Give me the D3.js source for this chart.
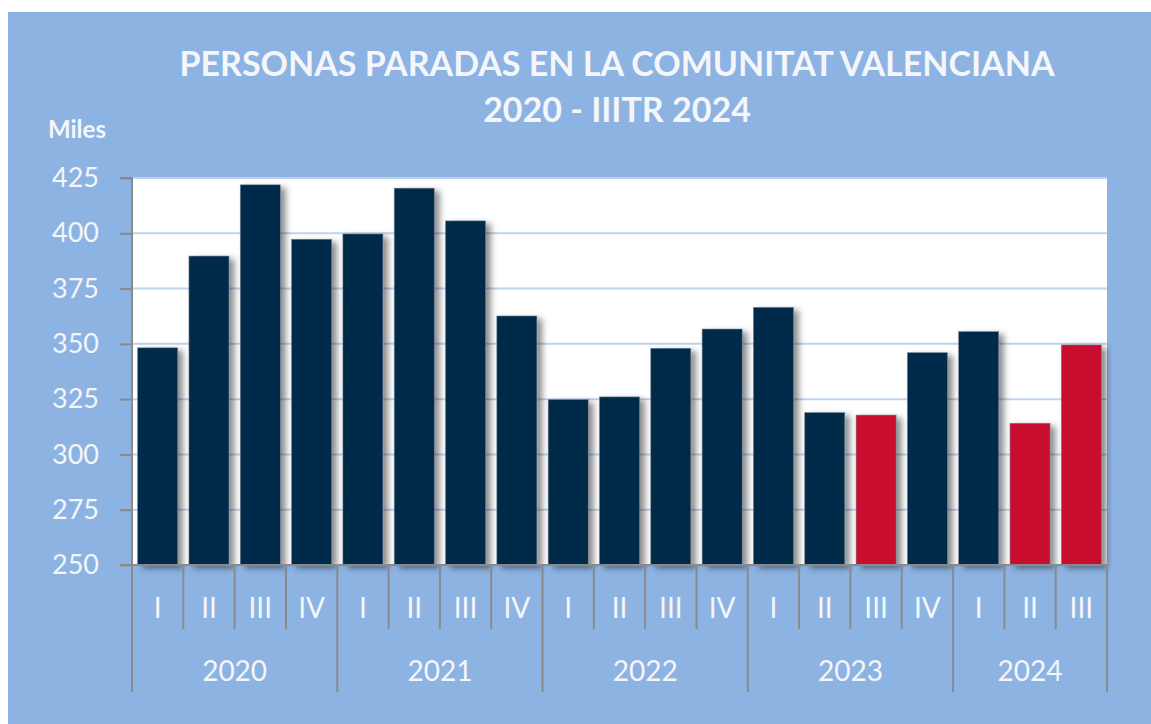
<!DOCTYPE html>
<html>
<head>
<meta charset="utf-8">
<script src="https://cdn.jsdelivr.net/npm/d3@7"></script>
<style>
  body { margin: 0; background: #fff; }
  text { font-family: Lato, "Open Sans", sans-serif; fill: #f4f6fa; }
</style>
</head>
<body>
<svg width="1151" height="724"></svg>
<script>
// data (thousands of people)
var years = ['2020', '2021', '2022', '2023', '2024'];
var quarters = ['I', 'II', 'III', 'IV'];
var periods = ['2020-I','2020-II','2020-III','2020-IV','2021-I','2021-II','2021-III','2021-IV',
               '2022-I','2022-II','2022-III','2022-IV','2023-I','2023-II','2023-III','2023-IV',
               '2024-I','2024-II','2024-III'];
var values = [348.2, 389.7, 421.9, 397.3, 399.7, 420.4, 405.6, 362.6,
              324.8, 326, 348, 356.7, 366.5, 318.9, 317.8, 346, 355.5, 314.1, 349.5];
// quarters shown in red
var highlighted = ['2023-III', '2024-II', '2024-III'];
var yTicks = [250, 275, 300, 325, 350, 375, 400, 425];

var svg = d3.select('svg');

// blue panel
svg.append('rect')
    .attr('x', 8).attr('y', 12)
    .attr('width', 1143).attr('height', 712)
    .attr('fill', '#8db3e2');

var defs = svg.append('defs');
defs.append('filter')
    .attr('id', 'shadow')
    .attr('x', '-20%').attr('y', '-10%')
    .attr('width', '160%').attr('height', '130%')
  .append('feDropShadow')
    .attr('dx', 5).attr('dy', 3)
    .attr('stdDeviation', 3)
    .attr('flood-color', '#000')
    .attr('flood-opacity', 0.45);

var plotLeft = 132, plotRight = 1107, plotTop = 178, plotBottom = 565;

var xScale = d3.scaleBand()
    .domain(periods)
    .range([plotLeft, plotRight])
    .paddingInner(0.22)
    .paddingOuter(0.11);

var yScale = d3.scaleLinear()
    .domain([250, 425])
    .range([plotBottom, plotTop]);

// title
svg.append('text')
    .attr('x', 617).attr('y', 76)
    .attr('text-anchor', 'middle')
    .style('font-size', '34px').style('font-weight', 'bold')
    .text('PERSONAS PARADAS EN LA COMUNITAT VALENCIANA');
svg.append('text')
    .attr('x', 617).attr('y', 122)
    .attr('text-anchor', 'middle')
    .style('font-size', '34px').style('font-weight', 'bold')
    .text('2020 - IIITR 2024');

svg.append('text')
    .attr('x', 48).attr('y', 138)
    .style('font-size', '24px').style('font-weight', 'bold')
    .text('Miles');

// plot background + gridlines
svg.append('rect')
    .attr('x', plotLeft).attr('y', plotTop)
    .attr('width', plotRight - plotLeft).attr('height', plotBottom - plotTop)
    .attr('fill', '#fff');

svg.append('g').selectAll('line')
    .data(yTicks.slice(1))
    .enter().append('line')
    .attr('x1', plotLeft).attr('x2', plotRight)
    .attr('y1', function(d) { return yScale(d); })
    .attr('y2', function(d) { return yScale(d); })
    .attr('stroke', '#bfd2ec')
    .attr('stroke-width', 2);

// bars
svg.append('g').selectAll('rect')
    .data(periods)
    .enter().append('rect')
    .attr('x', function(d) { return xScale(d); })
    .attr('y', function(d, i) { return yScale(values[i]); })
    .attr('width', xScale.bandwidth())
    .attr('height', function(d, i) { return plotBottom - yScale(values[i]); })
    .attr('fill', function(d) { return highlighted.indexOf(d) >= 0 ? '#c8102e' : '#012a4a'; })
    .attr('stroke', '#6f7f8f')
    .attr('stroke-width', 0.6)
    .attr('filter', 'url(#shadow)');

// y axis
var yAxisG = svg.append('g')
    .attr('transform', 'translate(' + plotLeft + ',0)')
    .call(d3.axisLeft(yScale).tickValues(yTicks).tickSize(12).tickPadding(21));
yAxisG.selectAll('path, line').attr('stroke', '#8a8a8a').attr('stroke-width', 2);
yAxisG.select('.domain').attr('d', 'M-12,' + plotTop + 'H0V' + plotBottom);
yAxisG.selectAll('text')
    .style('font-size', '27px')
    .style('font-family', 'Lato, sans-serif')
    .attr('fill', '#f4f6fa');

// x axis: baseline, separators and two label rows
var step = xScale.step();
var xAxisG = svg.append('g');
xAxisG.append('line')
    .attr('x1', plotLeft - 12).attr('x2', plotRight)
    .attr('y1', plotBottom).attr('y2', plotBottom)
    .attr('stroke', '#8a8a8a').attr('stroke-width', 2);

var edges = periods.concat(['end']);
function edgeX(d) {
    return d === 'end' ? plotRight : xScale(d) + xScale.bandwidth() / 2 - step / 2;
}
xAxisG.selectAll('line.sep')
    .data(edges)
    .enter().append('line')
    .attr('class', 'sep')
    .attr('x1', edgeX)
    .attr('x2', edgeX)
    .attr('y1', plotBottom)
    .attr('y2', function(d) {
        return (d === 'end' || d.split('-')[1] === 'I') ? 692 : 629;
    })
    .attr('stroke', '#8a8a8a').attr('stroke-width', 2);

xAxisG.selectAll('text.q')
    .data(periods)
    .enter().append('text')
    .attr('class', 'q')
    .attr('x', function(d) { return xScale(d) + xScale.bandwidth() / 2; })
    .attr('y', 618)
    .attr('text-anchor', 'middle')
    .style('font-size', '28px')
    .text(function(d) { return d.split('-')[1]; });

xAxisG.selectAll('text.y')
    .data(years)
    .enter().append('text')
    .attr('class', 'y')
    .attr('x', function(yr) {
        var ps = periods.filter(function(p) { return p.indexOf(yr) === 0; });
        var x0 = xScale(ps[0]) + xScale.bandwidth() / 2 - step / 2;
        var x1 = xScale(ps[ps.length - 1]) + xScale.bandwidth() / 2 + step / 2;
        return (x0 + x1) / 2;
    })
    .attr('y', 681)
    .attr('text-anchor', 'middle')
    .style('font-size', '28px')
    .text(function(d) { return d; });
</script>
</body>
</html>
